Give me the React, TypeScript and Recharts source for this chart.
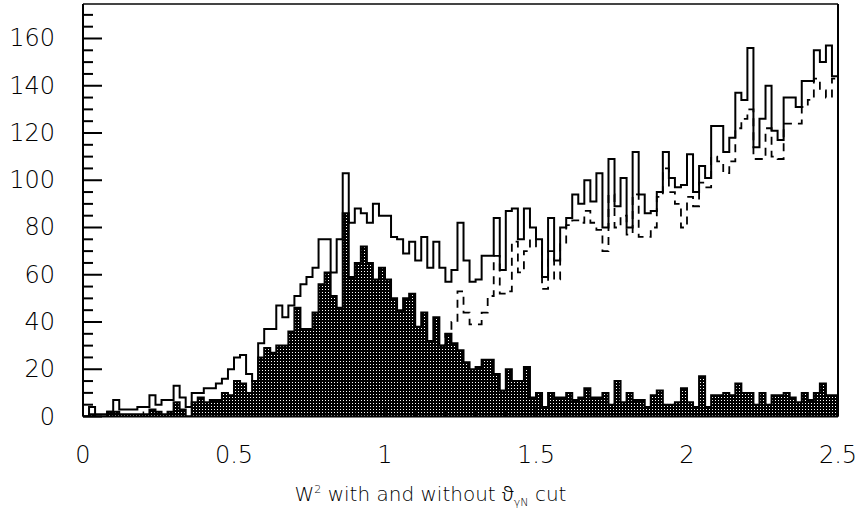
import React from 'react';
import { ComposedChart, Area, Line, XAxis, YAxis } from 'recharts';

// Histogram bins: 125 bins of width 0.02 over W^2 = 0 .. 2.5
const BIN_WIDTH = 0.02;

// W^2 without cut (solid outline)
const SOLID = [
  0, 4, 1, 1, 2, 7, 3, 3, 3, 4,
  4, 9, 5, 7, 7, 13, 8, 4, 10, 10,
  12, 12, 14, 16, 20, 25, 26, 18, 15, 31,
  37, 37, 47, 42, 47, 51, 56, 59, 63, 75,
  75, 61, 75, 103, 82, 88, 86, 82, 90, 85,
  85, 76, 75, 69, 74, 66, 76, 63, 74, 63,
  57, 62, 82, 66, 57, 58, 68, 68, 84, 62,
  87, 88, 75, 88, 80, 75, 59, 84, 66, 80,
  84, 94, 90, 100, 91, 103, 80, 109, 89, 101,
  80, 112, 94, 86, 87, 95, 112, 101, 97, 98,
  111, 95, 106, 101, 123, 123, 112, 118, 137, 134,
  156, 114, 126, 140, 121, 117, 135, 135, 131, 142,
  142, 155, 150, 157, 144,
];

// W^2 with cut (filled, stippled histogram)
const FILLED = [
  0, 1, 0, 0, 2, 2, 1, 1, 1, 1,
  1, 3, 2, 1, 2, 6, 3, 0, 6, 8,
  6, 7, 7, 10, 9, 15, 14, 10, 15, 25,
  29, 27, 30, 30, 36, 46, 37, 37, 44, 56,
  61, 51, 46, 86, 59, 65, 72, 65, 58, 63,
  58, 50, 45, 50, 52, 38, 44, 32, 42, 30,
  35, 31, 28, 23, 20, 21, 24, 24, 18, 11,
  20, 15, 15, 21, 8, 10, 4, 10, 8, 8,
  10, 7, 8, 12, 8, 8, 10, 5, 15, 6,
  10, 7, 7, 4, 9, 11, 5, 5, 6, 12,
  6, 4, 17, 4, 9, 9, 10, 9, 14, 10,
  10, 5, 10, 5, 9, 9, 10, 8, 6, 10,
  7, 10, 14, 9, 9,
];

// dashed histogram (coincides with the filled one below W^2 ~ 1.18)
const DASHED: (number | null)[] = [
  null, null, null, null, null, null, null, null, null, null,
  null, null, null, null, null, null, null, null, null, null,
  null, null, null, null, null, null, null, null, null, null,
  null, null, null, null, null, null, null, null, null, null,
  null, null, null, null, null, null, null, null, null, null,
  null, null, null, null, null, null, null, null, null, 30,
  35, 40, 53, 44, 39, 39, 44, 51, 68, 52,
  53, 74, 61, 70, 75, 72, 54, 70, 58, 73,
  81, 83, 82, 87, 82, 79, 70, 94, 80, 85,
  77, 94, 76, 76, 80, 93, 105, 95, 90, 80,
  93, 89, 99, 97, 110, 108, 103, 108, 122, 126,
  130, 109, 109, 122, 110, 109, 124, 124, 124, 131,
  134, 143, 138, 135, 143,
];

const X_MAX = 2.5;
const Y_MAX = 174.6;
const X_TICKS = [0, 0.1, 0.2, 0.3, 0.4, 0.5, 0.6, 0.7, 0.8, 0.9, 1, 1.1, 1.2, 1.3, 1.4, 1.5, 1.6, 1.7, 1.8, 1.9, 2, 2.1, 2.2, 2.3, 2.4, 2.5];
const X_LABELED = [0, 0.5, 1, 1.5, 2, 2.5];
const Y_TICKS = [0, 5, 10, 15, 20, 25, 30, 35, 40, 45, 50, 55, 60, 65, 70, 75, 80, 85, 90, 95, 100, 105, 110, 115, 120, 125, 130, 135, 140, 145, 150, 155, 160, 165, 170];
const Y_LABELED = [0, 20, 40, 60, 80, 100, 120, 140, 160];

const data = SOLID.map((s, i) => ({
  x: Math.round(i * BIN_WIDTH * 100) / 100,
  solid: s,
  filled: FILLED[i],
  dashed: DASHED[i],
}));
// closing edge of the last bin
data.push({
  x: X_MAX,
  solid: SOLID[SOLID.length - 1],
  filled: FILLED[FILLED.length - 1],
  dashed: DASHED[DASHED.length - 1],
});

const FONT = "'DejaVu Sans', 'Liberation Sans', sans-serif";
const PLOT_LEFT = 83; // = YAxis width
const PLOT_BOTTOM = 416.5; // = chart height - XAxis height

const YTick = (props: any) => {
  const { y, payload } = props;
  const v = payload.value;
  const major = Y_LABELED.includes(v);
  const x = PLOT_LEFT;
  return (
    <g>
      <line x1={x} x2={x + (major ? 19 : 10)} y1={y} y2={y} stroke="#000" strokeWidth={2} />
      {major && (
        <text x={55} y={y} style={{ textAnchor: 'end' }} textAnchor="end" dominantBaseline="central" fontFamily={FONT} fontWeight={200} fontSize={24} fill="#000">
          {v}
        </text>
      )}
    </g>
  );
};

const XTick = (props: any) => {
  const { x, payload } = props;
  const v = payload.value;
  const major = X_LABELED.some((m) => Math.abs(m - v) < 1e-6);
  const y = PLOT_BOTTOM;
  return (
    <g>
      <line x1={x} x2={x} y1={y} y2={y - (major ? 10 : 5)} stroke="#000" strokeWidth={1.5} />
      {major && (
        <text x={x} y={y + 38} style={{ textAnchor: 'middle' }} textAnchor="middle" dominantBaseline="central" fontFamily={FONT} fontWeight={200} fontSize={24} fill="#000">
          {String(v)}
        </text>
      )}
    </g>
  );
};

export default function App() {
  return (
    <div style={{ position: 'absolute', left: 0, top: 0, width: 861, height: 519, background: '#fff' }}>
      <svg width={0} height={0} style={{ position: 'absolute' }}>
        <defs>
          <pattern id="stipple" width={3} height={3} patternUnits="userSpaceOnUse">
            <rect x={0} y={0} width={3} height={3} fill="#000" />
            <rect x={1} y={1} width={1} height={1} fill="#fff" />
          </pattern>
        </defs>
      </svg>
      <ComposedChart width={861} height={519} data={data} margin={{ top: 0, right: 0, bottom: 0, left: 0 }}>
        <XAxis
          dataKey="x"
          type="number"
          domain={[0, X_MAX]}
          ticks={X_TICKS}
          interval={0}
          height={102.5}
          tickSize={0}
          tickMargin={0}
          tickLine={false}
          tick={<XTick />}
          axisLine={{ stroke: '#000', strokeWidth: 2 }}
          allowDataOverflow
        />
        <XAxis
          xAxisId="top"
          orientation="top"
          type="number"
          domain={[0, X_MAX]}
          height={4}
          tick={false}
          tickLine={false}
          axisLine={{ stroke: '#444', strokeWidth: 2 }}
        />
        <YAxis
          type="number"
          domain={[0, Y_MAX]}
          ticks={Y_TICKS}
          interval={0}
          width={83}
          tickSize={0}
          tickMargin={0}
          tickLine={false}
          tick={<YTick />}
          axisLine={{ stroke: '#000', strokeWidth: 2 }}
          allowDataOverflow
        />
        <YAxis
          yAxisId="right"
          orientation="right"
          type="number"
          domain={[0, Y_MAX]}
          width={23}
          tick={false}
          tickLine={false}
          axisLine={{ stroke: '#000', strokeWidth: 2 }}
        />
        <Area
          type="stepAfter"
          dataKey="filled"
          stroke="#000"
          strokeWidth={2}
          fill="url(#stipple)"
          fillOpacity={1}
          isAnimationActive={false}
          dot={false}
          activeDot={false}
        />
        <Line
          type="stepAfter"
          dataKey="solid"
          stroke="#000"
          strokeWidth={2}
          dot={false}
          activeDot={false}
          isAnimationActive={false}
        />
        <Line
          type="stepAfter"
          dataKey="dashed"
          stroke="#000"
          strokeWidth={1.8}
          strokeDasharray="8 6"
          dot={false}
          activeDot={false}
          connectNulls={false}
          isAnimationActive={false}
        />
      </ComposedChart>
      <div
        style={{
          position: 'absolute',
          left: 0,
          top: 480,
          width: 861,
          textAlign: 'center',
          fontFamily: FONT,
          fontWeight: 200,
          fontSize: 20,
          color: '#000',
          whiteSpace: 'nowrap',
        }}
      >
        W<sup style={{ fontSize: 11 }}>2</sup> with and without{' '}
        <span style={{ fontFamily: "'Noto Sans', 'Liberation Sans', sans-serif", fontWeight: 300, fontSize: 20 }}>ϑ</span>
        <sub style={{ fontSize: 11 }}>γN</sub> cut
      </div>
    </div>
  );
}
